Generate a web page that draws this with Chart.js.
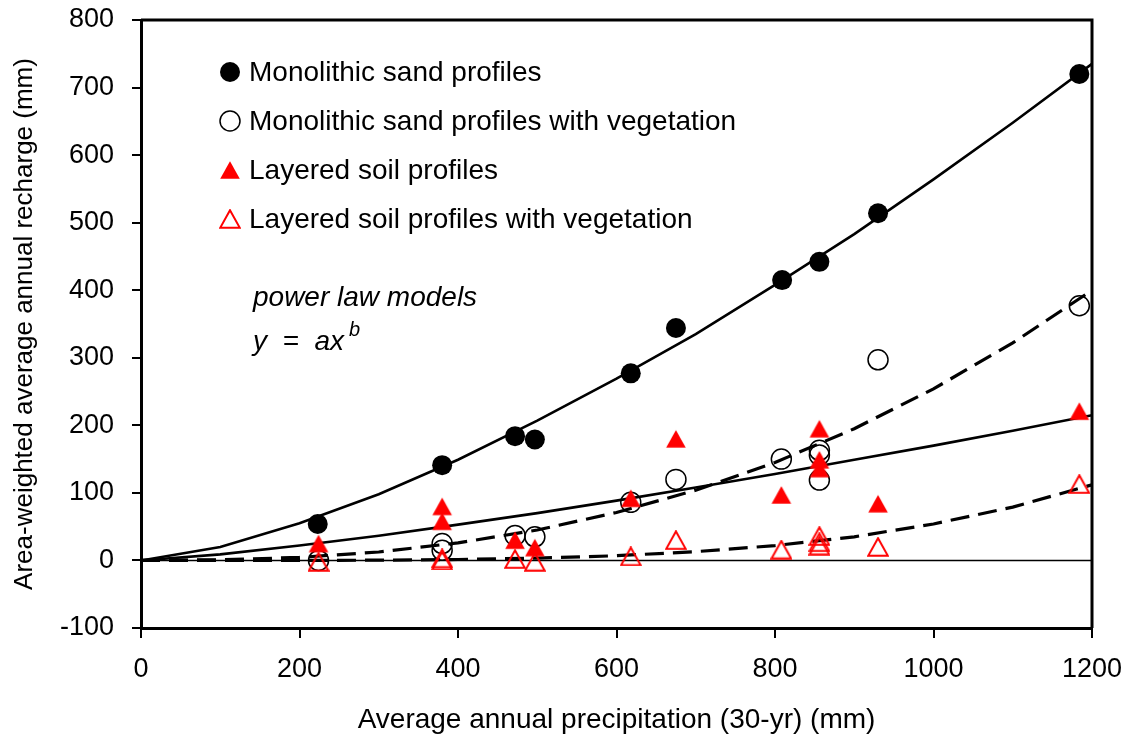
<!DOCTYPE html>
<html>
<head>
<meta charset="utf-8">
<script src="https://cdn.jsdelivr.net/npm/chart.js@4/dist/chart.umd.min.js"></script>
<style>
  html, body { margin: 0; padding: 0; background: #fff; }
  #wrap { width: 1130px; height: 739px; position: relative; }
</style>
</head>
<body>
<div id="wrap"><canvas id="c" width="1130" height="739"></canvas></div>
<script>
// ---- Data ----
const xTicks = [0, 200, 400, 600, 800, 1000, 1200];
const yTicks = [-100, 0, 100, 200, 300, 400, 500, 600, 700, 800];

const monoX = [223, 380, 472, 497, 618, 675, 809, 856, 930, 1184];
const monoY = [54, 141, 184, 179, 277, 344, 415, 442, 514, 720];

const monoVegX = [224, 380, 380, 472, 497, 618, 675, 808, 856, 856, 856, 930, 1184];
const monoVegY = [0, 25, 15, 37, 35, 86, 120, 150, 163, 156, 119, 297, 377];

const layeredX = [224, 380, 380, 472, 497, 618, 675, 808, 856, 856, 856, 930, 1184];
const layeredY = [25, 80, 58, 30, 19, 92, 180, 97, 195, 149, 136, 84, 221];

const layeredVegX = [224, 380, 380, 472, 497, 618, 675, 808, 856, 856, 856, 930, 1184];
const layeredVegY = [-2, 3, 0, 2, -2, 6, 30, 16, 36, 27, 22, 20, 113];

// power-law model curves as drawn (read at 100 mm steps)
const fitX = [0, 100, 200, 300, 400, 500, 600, 700, 800, 900, 1000, 1100, 1200];
const monoFit = [0, 20, 55, 98, 149, 207, 269, 335, 408, 483, 564, 648, 735];
const monoVegFit = [0, 1, 4.5, 12.5, 26, 45, 71, 104, 145, 195, 254, 322, 400];
const layeredFit = [0, 9, 22, 36.5, 53, 70, 88.5, 108, 128, 149, 170, 192, 215];
const layeredVegFit = [0, 0, 0.1, 0.4, 1.4, 3.4, 7, 13, 22, 35, 54, 79, 112];

const zeroLineX = [0, 1200];
const zeroLineY = [0, 0];

const labels = [
  'Monolithic sand profiles',
  'Monolithic sand profiles with vegetation',
  'Layered soil profiles',
  'Layered soil profiles with vegetation'
];
const xTitle = 'Average annual precipitation (30-yr) (mm)';
const yTitle = 'Area-weighted average annual recharge (mm)';

// ---- helpers ----
const pts = (xs, ys) => xs.map((x, i) => ({ x: x, y: ys[i] }));

function triCanvas(filled) {
  const w = 22, h = 20;
  const c = document.createElement('canvas');
  c.width = w; c.height = h;
  const g = c.getContext('2d');
  g.beginPath();
  g.moveTo(w / 2, 1.2);
  g.lineTo(w - 1.2, h - 1.2);
  g.lineTo(1.2, h - 1.2);
  g.closePath();
  if (filled) { g.fillStyle = '#ff0000'; g.fill(); }
  else { g.strokeStyle = '#ff0000'; g.lineWidth = 2; g.stroke(); }
  return c;
}
const triFilled = triCanvas(true);
const triOpen = triCanvas(false);

const FONT = 'Liberation Sans, Arial, sans-serif';

const lineDs = (label, ys, dashed) => ({
  type: 'line',
  label: label,
  data: pts(fitX, ys),
  borderColor: '#000',
  borderWidth: dashed ? 3.2 : 2.6,
  borderDash: dashed ? [19, 9] : [],
  borderCapStyle: 'butt',
  pointRadius: 0,
  fill: false,
  tension: 0,
  order: 10
});

const decorPlugin = {
  id: 'decor',
  afterDatasetsDraw(chart) {
    const { ctx, chartArea: a } = chart;
    ctx.save();
    // frame (top and right)
    ctx.strokeStyle = '#000';
    ctx.lineWidth = 3;
    ctx.beginPath();
    ctx.moveTo(a.left, a.top);
    ctx.lineTo(a.right, a.top);
    ctx.lineTo(a.right, a.bottom);
    ctx.stroke();
    // legend
    const lx = 230, tx = 249;
    const rows = [72, 121, 170, 219];
    ctx.font = '28px ' + FONT;
    ctx.textBaseline = 'middle';
    ctx.textAlign = 'left';
    ctx.beginPath(); ctx.arc(lx, rows[0], 10, 0, Math.PI * 2); ctx.fillStyle = '#000'; ctx.fill();
    ctx.beginPath(); ctx.arc(lx, rows[1], 10, 0, Math.PI * 2); ctx.lineWidth = 1.5; ctx.strokeStyle = '#000'; ctx.stroke();
    ctx.drawImage(triFilled, lx - triFilled.width / 2, rows[2] - triFilled.height / 2);
    ctx.drawImage(triOpen, lx - triOpen.width / 2, rows[3] - triOpen.height / 2);
    ctx.fillStyle = '#000';
    labels.forEach((t, i) => ctx.fillText(t, tx, rows[i] + 1));
    // annotation
    ctx.font = 'italic 28px ' + FONT;
    ctx.fillText('power law models', 253, 298);
    const s = 'y  =  ax';
    ctx.fillText(s, 253, 342);
    const w = ctx.measureText(s).width;
    ctx.font = 'italic 20px ' + FONT;
    ctx.fillText('b', 253 + w + 5, 330);
    ctx.restore();
  }
};

const ctx = document.getElementById('c').getContext('2d');
new Chart(ctx, {
  type: 'scatter',
  data: {
    datasets: [
      {
        label: labels[3],
        data: pts(layeredVegX, layeredVegY),
        pointStyle: triOpen,
        pointRadius: 10,
        showLine: false,
        order: 1
      },
      {
        label: labels[2],
        data: pts(layeredX, layeredY),
        pointStyle: triFilled,
        pointRadius: 10,
        showLine: false,
        order: 2
      },
      {
        label: labels[1],
        data: pts(monoVegX, monoVegY),
        pointStyle: 'circle',
        pointRadius: 10,
        backgroundColor: 'rgba(0,0,0,0)',
        borderColor: '#000',
        borderWidth: 1.5,
        showLine: false,
        order: 3
      },
      {
        label: labels[0],
        data: pts(monoX, monoY),
        pointStyle: 'circle',
        pointRadius: 10,
        backgroundColor: '#000',
        borderColor: '#000',
        borderWidth: 0,
        showLine: false,
        order: 4
      },
      lineDs('mono fit', monoFit, false),
      lineDs('mono veg fit', monoVegFit, true),
      lineDs('layered fit', layeredFit, false),
      lineDs('layered veg fit', layeredVegFit, true),
      {
        type: 'line',
        label: 'zero',
        data: pts(zeroLineX, zeroLineY),
        borderColor: '#000',
        borderWidth: 1.5,
        pointRadius: 0,
        fill: false,
        order: 20
      }
    ]
  },
  options: {
    responsive: false,
    animation: false,
    events: [],
    layout: { padding: { left: 0, right: 38, top: 20, bottom: 0 } },
    plugins: {
      legend: { display: false },
      tooltip: { enabled: false }
    },
    scales: {
      x: {
        type: 'linear',
        min: 0, max: 1200,
        afterBuildTicks: (s) => { s.ticks = xTicks.map(v => ({ value: v })); },
        afterFit: (s) => {
          s.height = 111;
          s.paddingLeft = 0; s.paddingRight = 0; s.paddingTop = 0; s.paddingBottom = 0;
        },
        ticks: {
          color: '#000',
          font: { family: FONT, size: 27 },
          padding: 15,
          maxRotation: 0,
          autoSkip: false,
          callback: (v) => String(v)
        },
        grid: {
          display: true,
          drawOnChartArea: false,
          drawTicks: true,
          tickLength: 10,
          color: '#000',
          lineWidth: 2
        },
        border: { display: true, color: '#000', width: 3 },
        title: {
          display: true,
          text: xTitle,
          color: '#000',
          font: { family: FONT, size: 28 },
          padding: { top: 0, bottom: 2 }
        }
      },
      y: {
        type: 'linear',
        min: -100, max: 800,
        afterBuildTicks: (s) => { s.ticks = yTicks.map(v => ({ value: v })); },
        afterFit: (s) => {
          s.width = 141;
          s.paddingLeft = 0; s.paddingRight = 0; s.paddingTop = 0; s.paddingBottom = 0;
        },
        ticks: {
          color: '#000',
          font: { family: FONT, size: 27 },
          padding: 18,
          autoSkip: false,
          callback: (v) => String(v)
        },
        grid: {
          display: true,
          drawOnChartArea: false,
          drawTicks: true,
          tickLength: 9,
          color: '#000',
          lineWidth: 2
        },
        border: { display: true, color: '#000', width: 3 },
        title: {
          display: true,
          text: yTitle,
          color: '#000',
          font: { family: FONT, size: 26 },
          padding: { top: 9, bottom: 0 }
        }
      }
    }
  },
  plugins: [decorPlugin]
});
</script>
</body>
</html>
